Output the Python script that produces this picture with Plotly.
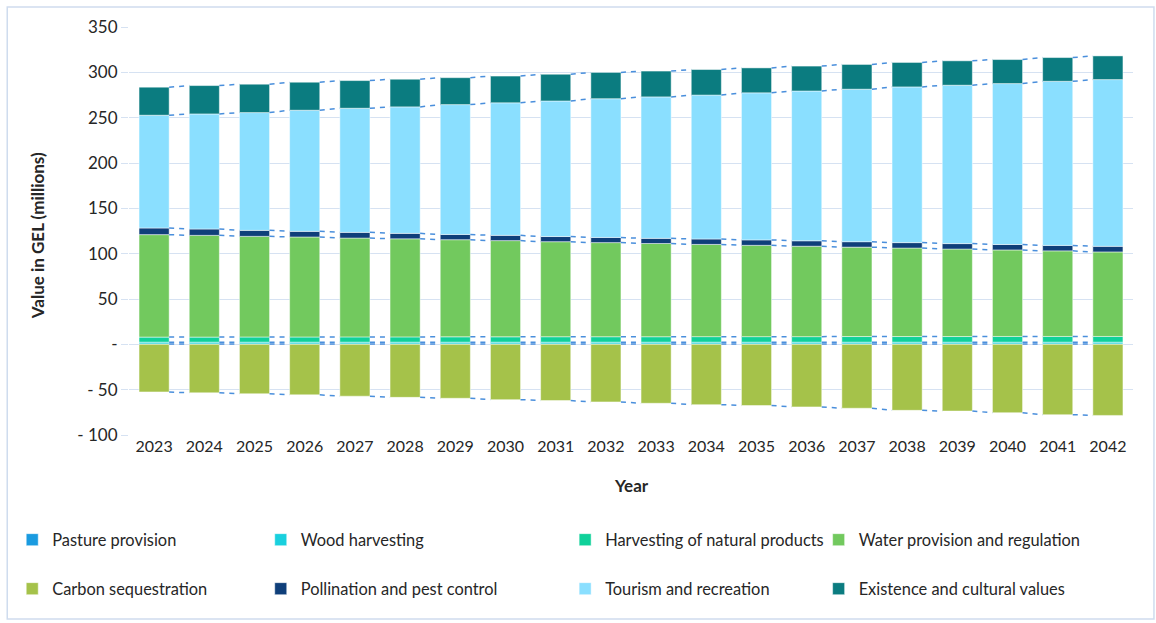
import numpy as np
import plotly.graph_objects as go

years = list(range(2023, 2043))
pasture = [0.4] * 20
wood = [2.0] * 20
harvesting = [5.6, 5.6, 5.7, 5.7, 5.8, 5.8, 5.9, 5.9, 6.0, 6.0, 6.0, 6.1, 6.1, 6.1, 6.2, 6.2, 6.2, 6.3, 6.3, 6.3]
water = [113.0, 112.2, 111.0, 110.3, 109.0, 108.2, 107.1, 106.1, 104.8, 103.8, 102.8, 101.7, 100.7, 99.7, 98.6, 97.6, 96.5, 95.4, 94.4, 93.2]
carbon = [-52.5, -53.5, -54.5, -55.7, -57.2, -58.5, -59.5, -61.0, -62.0, -63.5, -65.0, -66.5, -67.5, -69.0, -70.5, -72.8, -73.6, -75.4, -77.6, -78.4]
pollination = [7.3, 7.0, 6.6, 6.2, 6.3, 6.0, 5.8, 5.8, 5.7, 5.7, 5.7, 6.0, 6.0, 6.0, 6.0, 6.0, 6.0, 6.0, 6.0, 6.2]
tourism = [124.4, 126.9, 129.9, 133.6, 136.9, 139.5, 143.2, 146.2, 149.5, 153.0, 156.0, 158.7, 162.2, 165.2, 168.2, 171.7, 174.7, 177.5, 181.0, 183.9]
existence = [30.9, 31.3, 31.3, 30.9, 30.5, 30.5, 29.7, 29.5, 29.5, 29.0, 28.5, 28.2, 27.5, 27.5, 27.3, 27.0, 26.9, 26.5, 26.2, 26.1]

y_tickvals = [-100, -50, 0, 50, 100, 150, 200, 250, 300, 350]
y_ticktext = ["- 100", "- 50", "-", "50", "100", "150", "200", "250", "300", "350"]

series = [
    ("Pasture provision", pasture, "#1a9be0"),
    ("Wood harvesting", wood, "#19d0de"),
    ("Harvesting of natural products", harvesting, "#10d19a"),
    ("Water provision and regulation", water, "#72c95e"),
    ("Carbon sequestration", carbon, "#a5c24a"),
    ("Pollination and pest control", pollination, "#0f3f7a"),
    ("Tourism and recreation", tourism, "#8adfff"),
    ("Existence and cultural values", existence, "#0b7c80"),
]

FONT = "Lato"
W, H = 1156, 623
L, R, T, B = 127, 23, 27, 188
PW, PH = W - L - R, H - T - B

def px_x(p):
    return (p - L) / PW

def px_y(p):
    return (H - B - p) / PH

fig = go.Figure()
leg_pos = [(32, 540), (281, 540), (586, 540), (840, 540),
           (32, 589), (281, 589), (586, 589), (840, 589)]
for i, (name, vals, col) in enumerate(series):
    lname = "legend" if i == 0 else f"legend{i+1}"
    fig.add_trace(go.Bar(
        x=years, y=vals, name=name, width=0.6,
        marker=dict(color=col, line=dict(color="rgba(255,255,255,0.6)", width=0.8)),
        legend=lname,
    ))

# series lines (Excel style) connecting boundaries of consecutive bars
pos_series = [pasture, wood, harvesting, water, pollination, tourism, existence]
cum = np.cumsum(np.array(pos_series), axis=0)
boundaries = [row for row in cum] + [np.array(carbon)]
hw = 0.3
for b in boundaries:
    xs, ys = [], []
    for j in range(len(years) - 1):
        xs += [years[j] + hw, years[j + 1] - hw, None]
        ys += [b[j], b[j + 1], None]
    fig.add_trace(go.Scatter(x=xs, y=ys, mode="lines", showlegend=False, hoverinfo="skip",
                             line=dict(color="#4a8fdc", width=1.5, dash="5px,5px")))

layout_legends = {}
for i, (cx, cy) in enumerate(leg_pos):
    lname = "legend" if i == 0 else f"legend{i+1}"
    layout_legends[lname] = dict(
        x=px_x(cx - 22), y=px_y(cy), xanchor="left", yanchor="middle",
        orientation="h", font=dict(family=FONT, size=16.4, color="#262626"),
        bgcolor="rgba(0,0,0,0)", itemwidth=30,
    )

fig.update_layout(
    width=W, height=H,
    margin=dict(l=L, r=R, t=T, b=B),
    paper_bgcolor="white", plot_bgcolor="white",
    barmode="relative", bargap=0.4,
    font=dict(family=FONT, size=16, color="#262626"),
    xaxis=dict(range=[2022.5, 2042.5], tickvals=years, ticktext=[str(y) for y in years],
               showgrid=False, zeroline=False, showline=False, ticks="",
               tickfont=dict(family=FONT, size=16, color="#262626")),
    yaxis=dict(range=[-100, 350], tickvals=y_tickvals, ticktext=y_ticktext,
               showgrid=True, gridcolor="#d6e2f2", gridwidth=1,
               zeroline=True, zerolinecolor="#d6e2f2", zerolinewidth=1,
               ticks="outside", ticklen=7, tickcolor="#d6e2f2",
               tickfont=dict(family=FONT, size=17, color="#262626")),
    **layout_legends,
    annotations=[
        dict(text="<b>Value in GEL (millions)</b>", textangle=-90, x=px_x(36), y=px_y(236),
             xref="paper", yref="paper", xanchor="center", yanchor="middle", showarrow=False,
             font=dict(family=FONT, size=17, color="#262626")),
        dict(text="<b>Year</b>", x=px_x(630), y=px_y(485), xref="paper", yref="paper",
             xanchor="center", yanchor="middle",
             showarrow=False, font=dict(family=FONT, size=17, color="#262626")),
    ],
    shapes=[dict(type="rect", xref="paper", yref="paper",
                 x0=px_x(5), x1=px_x(1154), y0=px_y(619), y1=px_y(7),
                 line=dict(color="#cfdcee", width=1.5), layer="below")],
)

fig.write_html("out.html")
